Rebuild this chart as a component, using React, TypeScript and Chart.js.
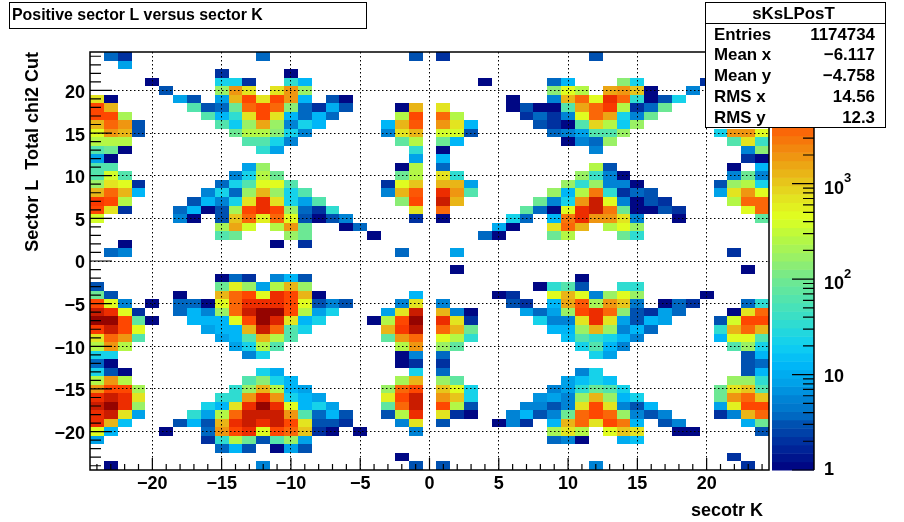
import { useEffect, useRef } from 'react';
import { Chart, registerables } from 'chart.js';

Chart.register(...registerables);

// each entry: [sector L bin, first sector K bin, counts of consecutive K bins...]
const rowsTop = [
  [24, -23, 4, 2], [24, -12, 4], [24, -1, 3], [24, 1, 2], [24, 12, 3],
  [23, -22, 8],
  [22, -15, 2], [22, -10, 1],
  [21, -20, 1], [21, -15, 21, 21, 2], [21, -10, 35, 13], [21, 4, 1], [21, 9, 4, 13], [21, 14, 130, 21], [21, 20, 2],
  [20, -19, 3], [20, -15, 165, 2100, 760], [20, -11, 760, 2100, 165], [20, 9, 130, 450, 280], [20, 13, 1600, 2100, 1000, 1], [20, 19, 6],
  [19, -24, 760, 1], [19, -18, 8, 3], [19, -15, 8, 1250, 5800, 760, 5800, 2100, 13], [19, -7, 3, 1], [19, 6, 1], [19, 9, 6, 1250, 3500, 450, 8700, 3500, 35, 1, 3, 21],
  [18, -24, 5800, 1250], [18, -17, 60, 3, 4, 100, 3500, 5800, 3500, 130, 4, 2, 10, 3], [18, -2, 1, 1250], [18, 1, 760], [18, 6, 1, 3, 1, 1, 60, 1600, 3500, 7000, 280, 2, 4, 100],
  [17, -24, 5800, 5800, 220], [17, -16, 60, 13, 35, 760, 5800, 760, 13, 4, 13, 4], [17, -2, 280, 5800], [17, 1, 3500, 280], [17, 7, 2, 4, 2, 6, 450, 3500, 1600, 21, 6, 100],
  [16, -24, 1250, 3500, 2100, 3], [16, -15, 60, 18, 165, 1700, 165, 6, 21, 13], [16, -3, 13, 1250, 4500], [16, 1, 2100, 760, 13], [16, 8, 3, 2, 1, 60, 900, 280, 18, 165],
  [15, -24, 450, 1800, 1250, 3], [15, -14, 100, 280, 280, 130, 21, 6], [15, -3, 6, 760, 1250], [15, 1, 350, 350, 3], [15, 9, 4, 6, 8, 60, 60, 165], [15, 21, 21, 2100, 2100, 450],
  [14, -24, 280, 280, 280], [14, -13, 60, 60, 21, 6], [14, -2, 80, 280], [14, 1, 100, 13], [14, 10, 1, 6, 4, 165], [14, 22, 60, 760, 45],
  [13, -24, 60, 100, 1], [13, -12, 35, 8], [13, -1, 35], [13, 1, 1], [13, 12, 6], [13, 23, 6, 130],
];

const rowsUpper = [
  [12, -24, 8, 1], [12, -1, 8], [12, 1, 13], [12, 23, 2, 1],
  [11, -24, 60, 60], [11, -13, 8, 165], [11, -2, 1, 280], [11, 1, 4], [11, 12, 280, 3], [11, 22, 1], [11, 24, 13],
  [10, -24, 60, 350, 60], [10, -14, 6, 21, 280, 100], [10, -2, 100, 280], [10, 1, 760, 35], [10, 11, 165, 45, 6, 1], [10, 22, 6, 100, 6],
  [9, -24, 165, 760, 450, 2], [9, -15, 4, 21, 60, 450, 450, 60], [9, -3, 2, 450, 1000], [9, 1, 1250, 1250, 8], [9, 10, 165, 35, 165, 6, 6, 1], [9, 21, 3, 165, 280, 21],
  [8, -24, 1250, 3500, 1250, 13], [8, -16, 6, 21, 4, 165, 1250, 165, 21, 60], [8, -3, 6, 1250, 4500], [8, 1, 8700, 2100, 60], [8, 9, 165, 13, 280, 2700, 35, 2, 4, 3], [8, 21, 8, 760, 2100, 450],
  [7, -24, 7000, 5800, 280], [7, -17, 3, 13, 6, 21, 760, 8700, 760, 21, 8, 60], [7, -2, 130, 5800], [7, 1, 13000, 1250], [7, 8, 100, 6, 25, 2100, 13000, 450, 6, 1, 3, 2], [7, 22, 280, 3500, 3500],
  [6, -24, 5800, 760, 2], [6, -18, 4, 13, 1, 3, 220, 5800, 8700, 5800, 165, 4, 2, 35], [6, -1, 760], [6, 1, 3500], [6, 7, 80, 4, 1, 450, 8700, 13000, 2700, 100, 1, 1, 3, 2], [6, 23, 450, 3500],
  [5, -24, 350], [5, -18, 6, 1], [5, -15, 3, 1000, 3500, 600, 3500, 450, 3, 1, 3, 6], [5, -1, 2], [5, 1, 1], [5, 6, 21, 4], [5, 9, 13, 2700, 8700, 2100, 2100, 760, 6], [5, 18, 1], [5, 24, 80],
  [4, -15, 220, 1600, 350], [4, -11, 280, 2100, 100], [4, -6, 1, 4], [4, 5, 10, 1], [4, 9, 760, 3500, 1250], [4, 13, 280, 450, 165],
  [3, -15, 60, 100], [3, -10, 165, 100], [3, -4, 1], [3, 4, 4, 1], [3, 9, 100, 280], [3, 14, 100, 35],
  [2, -22, 1], [2, -11, 1], [2, -9, 2],
  [1, -23, 4, 6], [1, -2, 4], [1, 2, 8], [1, 22, 2],
];

const rowsLower = [
  [-1, 2, 1], [-1, 23, 1],
  [-2, -15, 1, 4, 2], [-2, -11, 6, 13, 3], [-2, 11, 1],
  [-3, -24, 3], [-3, -15, 100, 600, 165, 8, 280, 1250, 165], [-3, 8, 1, 35, 60, 3], [-3, 14, 35, 35],
  [-4, -24, 100, 3], [-4, -18, 1], [-4, -15, 1250, 3500, 5800, 450, 8700, 5800, 1250, 1], [-4, -1, 13], [-4, 5, 1, 2], [-4, 9, 450, 1250, 450, 6, 165, 450, 165], [-4, 20, 1],
  [-5, -24, 5800, 450, 6], [-5, -20, 1], [-5, -18, 4, 4, 1, 450, 3500, 8700, 8700, 8700, 5800, 450, 3, 6, 3], [-5, -2, 6, 760], [-5, 1, 6], [-5, 6, 3, 2], [-5, 9, 13, 1600, 4500, 220, 2100, 1000, 5], [-5, 17, 1, 4, 2], [-5, 23, 4, 35],
  [-6, -24, 13000, 8700, 450, 2], [-6, -18, 4, 13, 6, 165, 3500, 13000, 20000, 20000, 5800, 280, 8, 21], [-6, -3, 8, 760, 13000], [-6, 1, 1250, 6, 1], [-6, 7, 8, 4, 8, 165, 5800, 8700, 3500, 130, 3, 2, 8, 4], [-6, 22, 1, 760, 3500],
  [-7, -24, 20000, 20000, 5800, 80, 1], [-7, -17, 13, 13, 13, 450, 5800, 20000, 10000, 760, 13, 21], [-7, -4, 1, 280, 5800, 20000], [-7, 1, 8700, 760, 2], [-7, 8, 21, 6, 6, 760, 8700, 760, 8, 3, 13, 8], [-7, 21, 3, 350, 5800, 5800],
  [-8, -24, 7000, 13000, 5800, 450], [-8, -16, 8, 13, 13, 1250, 13000, 3500, 60, 21], [-8, -3, 1250, 7000, 16000], [-8, 1, 3500, 1250, 100], [-8, 9, 13, 13, 165, 1250, 165, 6, 13, 4], [-8, 21, 35, 1250, 3500, 1250],
  [-9, -24, 760, 3500, 2100, 60], [-9, -15, 8, 13, 60, 1250, 280, 60], [-9, -3, 80, 2100, 3500], [-9, 1, 450, 280, 35], [-9, 10, 16, 60, 35, 21, 13, 6], [-9, 21, 13, 450, 450, 60],
  [-10, -24, 280, 2100, 280], [-10, -14, 8, 21, 280, 60], [-10, -2, 280, 2100], [-10, 1, 165, 80], [-10, 11, 21, 60, 13, 6], [-10, 22, 60, 165, 21],
  [-11, -24, 21, 21], [-11, -13, 6, 21], [-11, -2, 1, 6], [-11, 1, 4], [-11, 12, 21, 8], [-11, 23, 3, 13],
  [-12, -24, 4, 1], [-12, -2, 1, 2], [-12, 1, 2], [-12, 23, 3, 4],
];

const rowsBottom = [
  [-13, -24, 21, 3, 1], [-13, -12, 21, 10], [-13, -1, 21], [-13, 1, 4], [-13, 11, 6, 21], [-13, 23, 3, 13],
  [-14, -24, 280, 2100, 280], [-14, -13, 60, 130, 21, 13], [-14, -2, 220, 1250], [-14, 1, 165, 80], [-14, 10, 8, 16, 21, 16], [-14, 22, 165, 165, 35],
  [-15, -24, 2100, 5800, 5800, 220], [-15, -14, 35, 165, 1250, 280, 13, 8], [-15, -3, 165, 3500, 5800], [-15, 1, 1000, 450, 21], [-15, 9, 6, 8, 35, 100, 60, 21], [-15, 21, 100, 760, 1000, 60],
  [-16, -24, 8700, 13000, 8700, 760], [-16, -15, 35, 35, 2100, 8700, 2100, 21, 13, 8], [-16, -3, 600, 5800, 13000], [-16, 1, 2100, 1000, 21], [-16, 8, 7, 8, 6, 165, 1250, 165, 13, 21], [-16, 21, 100, 2100, 3500, 1000],
  [-17, -24, 13000, 20000, 8700, 165], [-17, -16, 21, 13, 760, 8700, 20000, 8700, 450, 13, 21, 8], [-17, -3, 80, 3500, 13000], [-17, 1, 5800, 280, 3], [-17, 7, 6, 6, 3, 6, 760, 5800, 760, 6, 3, 13], [-17, 21, 8, 600, 5800, 5800],
  [-18, -24, 8700, 13000, 760, 8], [-18, -17, 35, 8, 280, 3500, 13000, 13000, 13000, 2100, 60, 4, 13, 3], [-18, -3, 3, 280, 8700], [-18, 1, 760, 2, 1], [-18, 6, 6, 13, 3, 6, 100, 3500, 5800, 3500, 165, 6, 3, 6], [-18, 21, 2, 6, 1250, 3500],
  [-19, -24, 8700, 1250, 16], [-19, -18, 3, 13, 3, 1250, 8700, 13000, 8700, 13000, 5800, 760, 3, 3, 2], [-19, -2, 6, 760], [-19, 1, 3], [-19, 5, 1, 6, 2], [-19, 9, 13, 1250, 3500, 760, 5800, 2700, 13], [-19, 17, 3, 6], [-19, 23, 10, 100],
  [-20, -24, 450, 13], [-20, -19, 1], [-20, -16, 4, 2100, 5800, 8700, 450, 5800, 3500, 1000, 2, 1], [-20, -5, 1], [-20, -1, 6], [-20, 9, 220, 760, 280], [-20, 13, 450, 1000, 760], [-20, 18, 1, 1], [-20, 24, 3],
  [-21, -24, 8], [-21, -16, 2, 35, 280, 100, 3, 60, 165, 8], [-21, 9, 4, 6, 1], [-21, 14, 10, 16],
  [-22, -15, 4, 13, 3], [-22, -11, 1, 8, 3],
  [-23, -2, 1], [-23, 22, 2],
  [-24, -23, 1], [-24, -12, 6], [-24, -1, 3], [-24, 1, 3], [-24, 12, 6], [-24, 23, 2],
];

const binTicks = Array.from({ length: 49 }, (_, i) => i - 24);
const zTicks = [1, 2, 3, 4, 5, 6, 7, 8, 9, 10, 20, 30, 40, 50, 60, 70, 80, 90, 100, 200, 300, 400, 500, 600, 700, 800, 900, 1000, 2000, 3000, 4000, 5000, 6000, 7000, 8000, 9000, 10000, 20000];
const zLabels = [
  { value: 1, base: '1', exp: '' },
  { value: 10, base: '10', exp: '' },
  { value: 100, base: '10', exp: '2' },
  { value: 1000, base: '10', exp: '3' },
];
const statLabels = ['Entries', 'Mean x', 'Mean y', 'RMS x', 'RMS y'];
const statValues = ['1174734', '\u22126.117', '\u22124.758', '14.56', '12.3'];

// position on the colour bar (0-1) and colour
const paletteStops: [number, string][] = [
  [0, '#00007f'], [0.069, '#0030a0'], [0.109, '#0050b0'], [0.137, '#0070c8'], [0.178, '#0088d8'],
  [0.206, '#00a0e8'], [0.254, '#00b8f8'], [0.3, '#10d0f0'], [0.352, '#30dcd0'], [0.405, '#50e4b0'],
  [0.456, '#70e890'], [0.506, '#98f068'], [0.558, '#b8f840'], [0.605, '#e0ff20'], [0.657, '#e4e020'],
  [0.706, '#e8b818'], [0.758, '#f09010'], [0.809, '#fa6808'], [0.859, '#ff4000'], [0.899, '#e82800'],
  [0.94, '#c01800'], [0.982, '#a00800'], [1, '#880000'],
];

const FONT = '"Liberation Sans"';
const LEVELS = 50;

function hexToRgb(hex: string) {
  return [1, 3, 5].map(i => parseInt(hex.slice(i, i + 2), 16));
}

const palette = Array.from({ length: LEVELS }, (_, i) => {
  const t = (i + 0.5) / LEVELS;
  let k = 0;
  while (k < paletteStops.length - 2 && paletteStops[k + 1][0] < t) k++;
  const [t0, c0] = paletteStops[k];
  const [t1, c1] = paletteStops[k + 1];
  const a = hexToRgb(c0);
  const b = hexToRgb(c1);
  const f = (t - t0) / (t1 - t0);
  return `rgb(${a.map((v, j) => Math.round(v + (b[j] - v) * f)).join(',')})`;
});

const cells = [...rowsTop, ...rowsUpper, ...rowsLower, ...rowsBottom].flatMap(([y, x0, ...counts]) =>
  counts.map((v, i) => ({ x: x0 + i, y, v })),
);

const label5 = (v: number) => (v % 5 === 0 && Math.abs(v) <= 20 ? String(v).replace('-', '\u2212') : '');
const gridColor = (ctx: any) =>
  ctx.tick && ctx.tick.value % 5 === 0 && Math.abs(ctx.tick.value) <= 20 ? '#000' : 'rgba(0,0,0,0)';

const heatmapPlugin = {
  id: 'heatmap',
  beforeDatasetsDraw(chart: any) {
    const { ctx, scales } = chart;
    const { x, y, z } = scales;
    const level = (v: number) =>
      Math.min(LEVELS - 1, Math.floor(((z.bottom - z.getPixelForValue(v)) / (z.bottom - z.top)) * LEVELS));
    ctx.save();
    chart.data.datasets[0].data.forEach((c: any) => {
      const left = Math.round(x.getPixelForValue(c.x - 0.5));
      const right = Math.round(x.getPixelForValue(c.x + 0.5));
      const top = Math.round(y.getPixelForValue(c.y + 0.5));
      const bottom = Math.round(y.getPixelForValue(c.y - 0.5));
      ctx.fillStyle = palette[level(c.v)];
      ctx.fillRect(left, top, right - left, bottom - top);
    });
    // colour bar
    const h = (z.bottom - z.top) / LEVELS;
    palette.forEach((col, i) => {
      ctx.fillStyle = col;
      ctx.fillRect(z.left + 3, z.bottom - (i + 1) * h, z.right - z.left - 3, h + 0.5);
    });
    ctx.restore();
  },
};

const framePlugin = {
  id: 'frame',
  afterDraw(chart: any) {
    const { ctx, chartArea: area, scales } = chart;
    const { x, y, z } = scales;
    ctx.save();
    ctx.strokeStyle = '#000';
    ctx.fillStyle = '#000';

    ctx.lineWidth = 1.2;
    ctx.beginPath();
    x.ticks.forEach((t: any) => {
      const px = x.getPixelForValue(t.value);
      ctx.moveTo(px, area.bottom);
      ctx.lineTo(px, area.bottom - (t.value % 5 === 0 ? 12 : 6));
    });
    y.ticks.forEach((t: any) => {
      const py = y.getPixelForValue(t.value);
      ctx.moveTo(area.left, py);
      ctx.lineTo(area.left + (t.value % 5 === 0 ? 22 : 11), py);
    });
    z.ticks.forEach((t: any) => {
      const py = z.getPixelForValue(t.value);
      const major = Number.isInteger(Math.log10(t.value));
      ctx.moveTo(z.right, py);
      ctx.lineTo(z.right - (major ? 22 : 11), py);
    });
    ctx.stroke();

    ctx.lineWidth = 1.5;
    ctx.strokeRect(area.left, area.top, area.right - area.left, area.bottom - area.top);
    ctx.beginPath();
    ctx.moveTo(z.right, z.top);
    ctx.lineTo(z.right, z.bottom);
    ctx.stroke();

    // colour axis labels
    ctx.textBaseline = 'middle';
    ctx.textAlign = 'left';
    zLabels.forEach(l => {
      const py = z.getPixelForValue(l.value);
      const offset = l.value === 1 ? 0 : l.exp ? 5 : 2;
      ctx.font = `bold 18px ${FONT}`;
      ctx.fillText(l.base, 824, py + offset);
      if (l.exp) {
        const w = ctx.measureText(l.base).width;
        ctx.font = `bold 13px ${FONT}`;
        ctx.fillText(l.exp, 824 + w, py + offset - 10);
      }
    });

    ctx.font = `bold 18px ${FONT}`;
    ctx.textAlign = 'right';
    ctx.fillText('secotr K', 763, 511);

    // title box
    ctx.lineWidth = 1;
    ctx.fillStyle = '#fff';
    ctx.fillRect(9.5, 2.5, 357, 26);
    ctx.strokeRect(9.5, 2.5, 357, 26);
    ctx.fillStyle = '#000';
    ctx.font = `bold 15.9px ${FONT}`;
    ctx.textAlign = 'left';
    ctx.fillText('Positive sector L versus sector K', 12, 16);

    // stats box
    ctx.fillStyle = '#fff';
    ctx.fillRect(705.5, 2.5, 180, 125);
    ctx.strokeStyle = '#000';
    ctx.strokeRect(705.5, 2.5, 180, 125);
    ctx.beginPath();
    ctx.moveTo(705.5, 23.5);
    ctx.lineTo(885.5, 23.5);
    ctx.stroke();
    ctx.fillStyle = '#000';
    ctx.font = `bold 16.9px ${FONT}`;
    ctx.textAlign = 'center';
    ctx.fillText('sKsLPosT', 793.5, 14);
    statLabels.forEach((s, i) => {
      const py = 35 + i * 20.8;
      ctx.textAlign = 'left';
      ctx.fillText(s, 714, py);
      ctx.textAlign = 'right';
      ctx.fillText(statValues[i], 875, py);
    });
    ctx.restore();
  },
};

export default function App() {
  const chartRef = useRef<HTMLCanvasElement>(null);

  useEffect(() => {
    document.body.style.margin = '0';
    if (!chartRef.current) return;

    const chart = new Chart(chartRef.current, {
      type: 'scatter',
      data: { datasets: [{ label: 'sKsLPosT', data: cells as any, pointRadius: 0 }] },
      options: {
        animation: false,
        responsive: false,
        devicePixelRatio: 1,
        layout: { padding: { top: 52, right: 90, left: 0, bottom: 0 } },
        plugins: { legend: { display: false }, tooltip: { enabled: false } },
        scales: {
          x: {
            type: 'linear',
            min: -24.5,
            max: 24.5,
            afterBuildTicks: (s: any) => { s.ticks = binTicks.map(value => ({ value })); },
            afterFit: (s: any) => { s.height = 52; },
            grid: { color: gridColor, drawTicks: false, z: 1, lineWidth: 1 },
            border: { display: false, dash: [1.5, 2.5] },
            ticks: {
              autoSkip: false,
              maxRotation: 0,
              padding: 3,
              color: '#000',
              font: { family: FONT, size: 18, weight: 'bold' },
              callback: (v: any) => label5(v),
            },
          },
          y: {
            type: 'linear',
            min: -24.5,
            max: 24.5,
            afterBuildTicks: (s: any) => { s.ticks = binTicks.map(value => ({ value })); },
            afterFit: (s: any) => { s.width = 90; },
            grid: { color: gridColor, drawTicks: false, z: 1, lineWidth: 1 },
            border: { display: false, dash: [1.5, 2.5] },
            title: {
              display: true,
              text: 'Sector L  Total chi2 Cut',
              align: 'end',
              color: '#000',
              font: { family: FONT, size: 18, weight: 'bold' },
              padding: { top: 22, bottom: 0 },
            },
            ticks: {
              autoSkip: false,
              padding: 5,
              labelOffset: 2.5,
              color: '#000',
              font: { family: FONT, size: 18, weight: 'bold' },
              callback: (v: any) => label5(v),
            },
          },
          z: {
            type: 'logarithmic',
            position: 'right',
            axis: 'y',
            min: 1,
            max: 24000,
            afterBuildTicks: (s: any) => { s.ticks = zTicks.map(value => ({ value })); },
            afterFit: (s: any) => { s.width = 45; },
            grid: { display: false },
            border: { display: false },
            ticks: { display: false },
          },
        },
      } as any,
      plugins: [heatmapPlugin, framePlugin],
    });

    return () => {
      chart.destroy();
    };
  }, []);

  return (
    <div style={{ position: 'absolute', left: 0, top: 0, width: 904, height: 522, background: '#fff' }}>
      <canvas ref={chartRef} width={904} height={522} style={{ display: 'block' }} />
    </div>
  );
}
